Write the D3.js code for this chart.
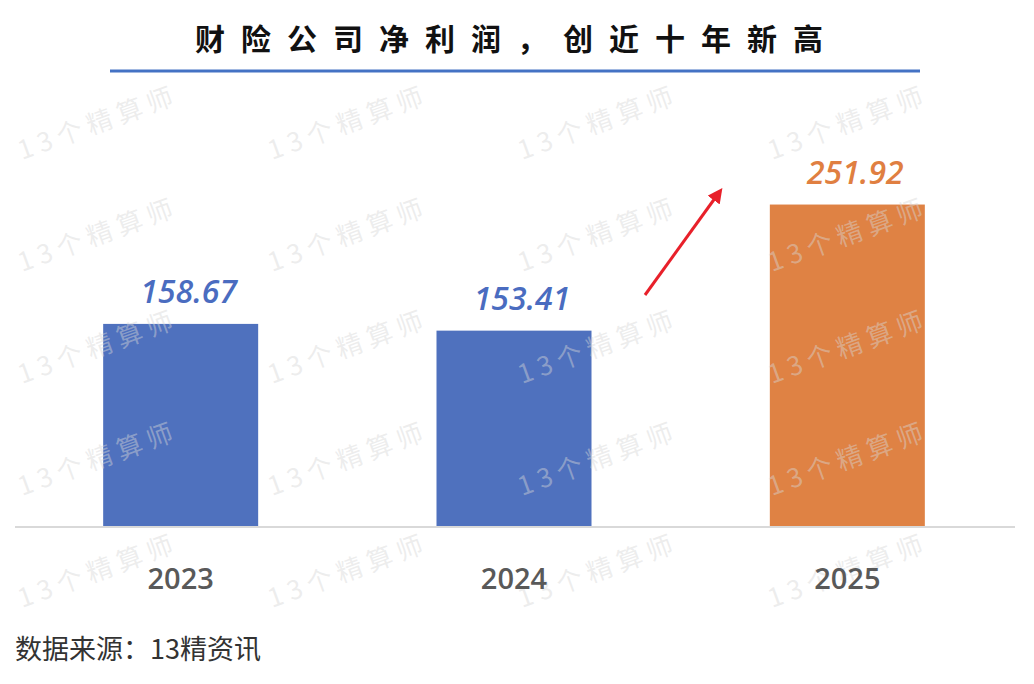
<!DOCTYPE html>
<html><head><meta charset="utf-8">
<script src="https://cdn.jsdelivr.net/npm/d3@7"></script>
<style>body{margin:0;background:#fff}svg{display:block}</style>
</head><body>
<svg id="chart" width="1034" height="684"></svg>
<script>
// Data
var years = ["2023", "2024", "2025"];
var profits = [158.67, 153.41, 251.92];
var barColors = ["#4f71be", "#4f71be", "#df8244"];
var labelColors = ["#4a6cc0", "#4a6cc0", "#e07f41"];

var svg = d3.select("#chart");
var font = "'Noto Sans CJK SC', 'Noto Sans', sans-serif";

var x = d3.scalePoint().domain(years).range([14, 1014]).padding(0.5);
var y = d3.scaleLinear().domain([0, 400]).range([527, 15]);
var barW = 155;

// Title
svg.append("text").attr("x", 517).attr("y", 50).attr("text-anchor", "middle")
  .style("font-family", font).style("font-size", "30px").style("font-weight", "bold")
  .style("letter-spacing", "16px").attr("fill", "#111").text("财险公司净利润，创近十年新高");
svg.append("line").attr("x1", 110).attr("x2", 920).attr("y1", 71).attr("y2", 71)
  .attr("stroke", "#4472c4").attr("stroke-width", 3);

// Bars
svg.selectAll("rect.bar").data(years).join("rect").attr("class", "bar")
  .attr("x", function(d) { return x(d) - barW / 2; })
  .attr("y", function(d, i) { return y(profits[i]); })
  .attr("width", barW)
  .attr("height", function(d, i) { return y(0) - y(profits[i]); })
  .attr("fill", function(d, i) { return barColors[i]; });

// Watermark (light, over the bars too)
var wm = svg.append("g").attr("pointer-events", "none");
for (var r = 0; r < 5; r++) {
  for (var c = 0; c < 4; c++) {
    var wx = 22 + c * 250, wy = 160 + r * 112;
    wm.append("text").attr("transform", "translate(" + wx + "," + wy + ") rotate(-20)")
      .style("font-family", font).style("font-size", "26px").style("letter-spacing", "6px")
      .attr("fill", "rgba(215,215,215,0.45)").text("13个精算师");
  }
}

// Value labels
svg.selectAll("text.val").data(years).join("text").attr("class", "val")
  .attr("x", function(d) { return x(d) + 8; })
  .attr("y", function(d, i) { return y(profits[i]) - 21; })
  .attr("text-anchor", "middle")
  .style("font-family", "'Open Sans', sans-serif").style("font-size", "32px")
  .style("font-style", "italic").style("font-weight", "600")
  .attr("fill", function(d, i) { return labelColors[i]; })
  .text(function(d, i) { return profits[i].toFixed(2); });

// Baseline and axis labels
svg.append("line").attr("x1", 15).attr("x2", 1015).attr("y1", y(0)).attr("y2", y(0))
  .attr("stroke", "#d9d9d9").attr("stroke-width", 2);
svg.selectAll("text.year").data(years).join("text").attr("class", "year")
  .attr("x", function(d) { return x(d); }).attr("y", 589).attr("text-anchor", "middle")
  .style("font-family", "'Open Sans', sans-serif").style("font-size", "29px").style("font-weight", "600")
  .attr("fill", "#595959").text(function(d) { return d; });

// Arrow
svg.append("defs").append("marker").attr("id", "ah").attr("viewBox", "0 0 10 10")
  .attr("refX", 5).attr("refY", 5).attr("markerWidth", 5).attr("markerHeight", 5)
  .attr("orient", "auto").append("path").attr("d", "M0,0L10,5L0,10z").attr("fill", "#e8202a");
svg.append("line").attr("x1", 645).attr("y1", 295).attr("x2", 718).attr("y2", 194)
  .attr("stroke", "#e8202a").attr("stroke-width", 3).attr("marker-end", "url(#ah)");

// Source
svg.append("text").attr("x", 15).attr("y", 659)
  .style("font-family", font).style("font-size", "27px").attr("fill", "#333")
  .text("数据来源：13精资讯");
</script>
</body></html>
